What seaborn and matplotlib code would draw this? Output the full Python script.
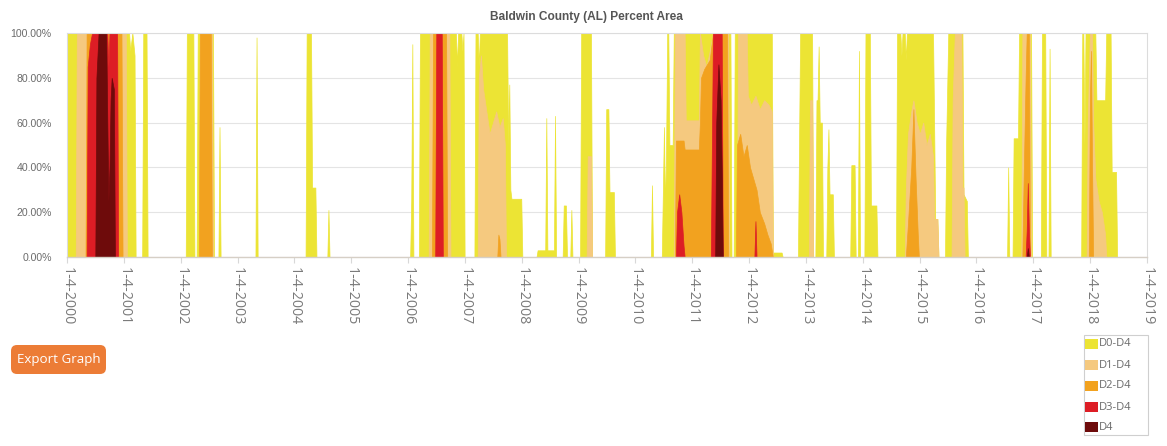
import numpy as np
import pandas as pd
import matplotlib
matplotlib.use("Agg")
import matplotlib.pyplot as plt
from matplotlib.patches import FancyBboxPatch, Rectangle
from matplotlib.ticker import FuncFormatter
import seaborn as sns

# Drought Monitor maps are released weekly starting 2000-01-04.
# Each series: (weeks since 2000-01-04, percent of county area).
START = pd.Timestamp("2000-01-04")

d0_points = [
    (0, 100), (57, 100), (58, 92), (60, 100), (62, 90), (63, 0),
    (69, 0), (70, 100), (73, 100), (74, 0),
    (109, 0), (110, 100), (116, 100), (117, 0),
    (119, 0), (120, 100), (134, 100), (135, 0),
    (139, 0), (140, 58), (141, 0),
    (173, 0), (174, 98), (175, 0),
    (219, 0), (220, 100), (224, 100), (225, 31), (228, 31), (229, 0),
    (239, 0), (240, 21), (241, 0),
    (315, 0), (316, 25), (317, 95), (318, 0),
    (323, 0), (324, 100), (357, 100), (358, 85), (359, 100), (362, 100),
    (363, 92), (364, 100), (365, 0),
    (374, 0), (375, 100), (377, 100), (378, 85), (379, 100), (404, 100),
    (405, 50), (406, 77), (407, 30), (408, 26), (417, 26), (418, 0),
    (431, 0), (432, 3), (439, 3), (440, 62), (441, 3), (447, 3), (448, 63), (449, 0),
    (455, 0), (456, 23), (458, 23), (459, 0),
    (462, 0), (463, 21), (464, 0),
    (471, 0), (472, 100), (481, 100), (482, 0),
    (494, 0), (495, 66), (497, 66), (498, 29), (502, 29), (503, 0),
    (536, 0), (537, 32), (538, 0),
    (546, 0), (548, 58), (549, 20), (550, 50), (551, 100), (552, 100), (553, 50),
    (556, 50), (557, 100), (609, 100), (610, 0), (612, 0), (613, 100), (647, 100),
    (648, 2), (656, 2), (657, 0),
    (671, 0), (672, 50), (673, 100), (684, 100), (685, 0),
    (687, 0), (688, 70), (689, 70), (690, 94), (691, 60), (693, 60), (694, 0),
    (697, 0), (698, 40), (699, 57), (700, 28), (703, 28), (704, 0),
    (719, 0), (720, 41), (723, 41), (724, 0),
    (726, 0), (727, 92), (728, 0),
    (732, 0), (733, 100), (737, 100), (738, 23), (743, 23), (744, 0),
    (761, 0), (762, 100), (765, 100), (766, 90), (767, 100), (769, 100), (770, 88),
    (771, 100), (795, 100), (796, 60), (797, 17), (799, 17), (800, 0),
    (806, 0), (807, 50), (809, 100), (822, 100), (823, 28), (826, 25), (827, 0),
    (863, 0), (864, 40), (865, 0),
    (868, 0), (869, 53), (873, 53), (874, 100), (885, 100), (886, 0),
    (894, 0), (895, 100), (898, 100), (899, 0),
    (901, 0), (902, 93), (903, 0),
    (931, 0), (932, 100), (933, 100), (934, 50), (935, 100), (944, 100), (945, 70),
    (953, 70), (954, 100), (958, 100), (959, 38), (963, 38), (964, 0),
    (966, 0),
]

d1_points = [
    (0, 0), (8, 0), (9, 100), (54, 100), (55, 0),
    (121, 0), (122, 100), (133, 100), (134, 0),
    (332, 0), (333, 100), (351, 100), (352, 0),
    (377, 0), (378, 80), (380, 90), (382, 75), (385, 65), (388, 55), (391, 60),
    (394, 65), (397, 58), (400, 62), (402, 50), (403, 0),
    (477, 0), (478, 45), (481, 45), (482, 0),
    (557, 0), (558, 100), (567, 100), (568, 61), (580, 61), (581, 100), (584, 90),
    (587, 85), (590, 92), (593, 100), (607, 100), (608, 0),
    (615, 0), (616, 100), (624, 100), (625, 72), (628, 68), (632, 72), (636, 66),
    (640, 70), (644, 68), (647, 65), (648, 0),
    (681, 0), (682, 70), (684, 70), (685, 0),
    (769, 0), (770, 30), (772, 55), (775, 65), (777, 70), (780, 60), (783, 55),
    (786, 60), (789, 50), (792, 55), (795, 45), (796, 17), (799, 17), (800, 0),
    (812, 0), (813, 70), (815, 100), (821, 100), (822, 31), (823, 31), (824, 0),
    (876, 0), (877, 100), (884, 100), (885, 0),
    (936, 0), (937, 60), (939, 100), (941, 100), (942, 60), (944, 35), (947, 25),
    (950, 20), (953, 10), (954, 0),
    (966, 0),
]

d2_points = [
    (0, 0), (17, 0), (18, 100), (50, 100), (51, 0),
    (121, 0), (122, 100), (132, 100), (133, 0),
    (335, 0), (336, 100), (348, 100), (349, 0),
    (395, 0), (396, 10), (397, 8), (398, 0),
    (558, 0), (559, 52), (566, 52), (567, 48), (580, 48), (581, 60), (582, 80),
    (585, 84), (590, 88), (593, 100), (606, 100), (607, 0),
    (614, 0), (615, 50), (618, 55), (621, 45), (624, 50), (627, 40), (630, 35),
    (633, 30), (636, 20), (640, 15), (643, 10), (646, 6), (648, 0),
    (770, 0), (772, 15), (775, 40), (777, 66), (779, 35), (781, 10), (782, 0),
    (877, 0), (878, 30), (880, 80), (881, 100), (883, 100), (884, 0),
    (938, 0), (939, 70), (940, 92), (941, 40), (942, 0),
    (966, 0),
]

d3_points = [
    (0, 0), (18, 0), (19, 85), (21, 95), (23, 100), (37, 100), (38, 85), (39, 100),
    (46, 100), (47, 0),
    (338, 0), (339, 100), (344, 100), (345, 0),
    (559, 0), (560, 20), (562, 28), (564, 20), (566, 5), (567, 0),
    (591, 0), (592, 50), (593, 100), (601, 100), (602, 0),
    (631, 0), (632, 16), (633, 0),
    (880, 0), (881, 12), (882, 33), (883, 12), (884, 0),
    (966, 0),
]

d4_points = [
    (0, 0), (26, 0), (27, 80), (29, 100), (36, 100), (37, 60), (38, 25), (39, 40),
    (40, 70), (41, 80), (43, 75), (44, 0),
    (595, 0), (596, 60), (598, 86), (600, 70), (601, 40), (602, 0),
    (881, 0), (882, 4), (883, 0),
    (966, 0),
]

series_labels = ["D0-D4", "D1-D4", "D2-D4", "D3-D4", "D4"]
series_colors = ["#ECE434", "#F5C97F", "#F2A21F", "#DD1D25", "#6E0B0B"]
series_points = [d0_points, d1_points, d2_points, d3_points, d4_points]

tick_years = list(range(2000, 2020))
tick_labels = [f"1-4-{y}" for y in tick_years]
y_ticks = [0, 20, 40, 60, 80, 100]

W, H = 1167, 446

sns.set_theme(style="white")
plt.rcParams["font.family"] = ["Open Sans", "DejaVu Sans"]

fig = plt.figure(figsize=(W / 100, H / 100), dpi=100)
fig.patch.set_facecolor("white")

# plot area in pixel terms: x 67..1147, y 33..257
ax = fig.add_axes([67 / W, 1 - 257 / H, 1080 / W, 224 / H])
ax.set_facecolor("white")

frames = []
for label, pts in zip(series_labels, series_points):
    wk, val = zip(*pts)
    frames.append(pd.DataFrame({
        "date": START + pd.to_timedelta(np.array(wk) * 7, unit="D"),
        "pct": np.array(val, dtype=float),
        "category": label,
    }))
data = pd.concat(frames, ignore_index=True)

for i, (label, color) in enumerate(zip(series_labels, series_colors)):
    sub = data[data["category"] == label]
    ax.fill_between(sub["date"].dt.to_pydatetime(), 0, sub["pct"].values,
                    facecolor=color, edgecolor=color, linewidth=0.5,
                    zorder=2 + i)

ax.set_xlim(START.to_pydatetime(), pd.Timestamp("2019-01-04").to_pydatetime())
ax.set_ylim(0, 100)

ax.set_yticks(y_ticks)
ax.yaxis.set_major_formatter(FuncFormatter(lambda v, p: f"{v:.2f}%"))
ax.yaxis.grid(True, color="#e4e4e4", linewidth=0.8, zorder=0)
ax.xaxis.grid(False)
ax.set_axisbelow(True)

ax.set_xticks([pd.Timestamp(f"{y}-01-04").to_pydatetime() for y in tick_years])
ax.set_xticklabels(tick_labels, rotation=-90, fontsize=10.3, color="#7a7a7a",
                   ha="center", va="top")
for t in ax.get_yticklabels():
    t.set_fontfamily(["Liberation Sans", "DejaVu Sans"])
    t.set_fontsize(7.6)
    t.set_color("#6b6b6b")

ax.tick_params(axis="x", length=4, width=0.8, color="#d8d8d8", pad=3, bottom=True)
ax.tick_params(axis="y", length=0, pad=11)

for side, sp in ax.spines.items():
    sp.set_visible(True)
    sp.set_color("#dcdcdc")
    sp.set_linewidth(0.8)
    sp.set_zorder(20)
ax.spines["bottom"].set_color("#d6cfc6")
ax.spines["bottom"].set_linewidth(1.0)

# overlay in pixel coordinates for title, button and legend
ov = fig.add_axes([0, 0, 1, 1], zorder=30)
ov.set_xlim(0, W)
ov.set_ylim(H, 0)
ov.axis("off")
ov.patch.set_alpha(0)

ov.text(586, 17, "Baldwin County (AL) Percent Area", ha="center", va="center",
        fontsize=8.6, fontweight="bold", color="#555555",
        family=["Liberation Sans", "DejaVu Sans"])

button = FancyBboxPatch((11, 345), 95, 29,
                        boxstyle="round,pad=0,rounding_size=6",
                        facecolor="#EC7C36", edgecolor="none")
ov.add_patch(button)
ov.text(58.5, 359.5, "Export Graph", ha="center", va="center", fontsize=9.6,
        color="white")

ov.add_patch(Rectangle((1084, 335), 64, 100, facecolor="white",
                       edgecolor="#cfcfcf", linewidth=0.8))
legend_y = [344, 365, 386, 407, 427]
for label, color, yc in zip(series_labels, series_colors, legend_y):
    ov.add_patch(Rectangle((1085, yc - 5), 13, 10, facecolor=color,
                           edgecolor="none"))
    ov.text(1099, yc, label, ha="left", va="center", fontsize=8,
            color="#6a6a6a")

fig.savefig("out.png", dpi=100, facecolor="white")
